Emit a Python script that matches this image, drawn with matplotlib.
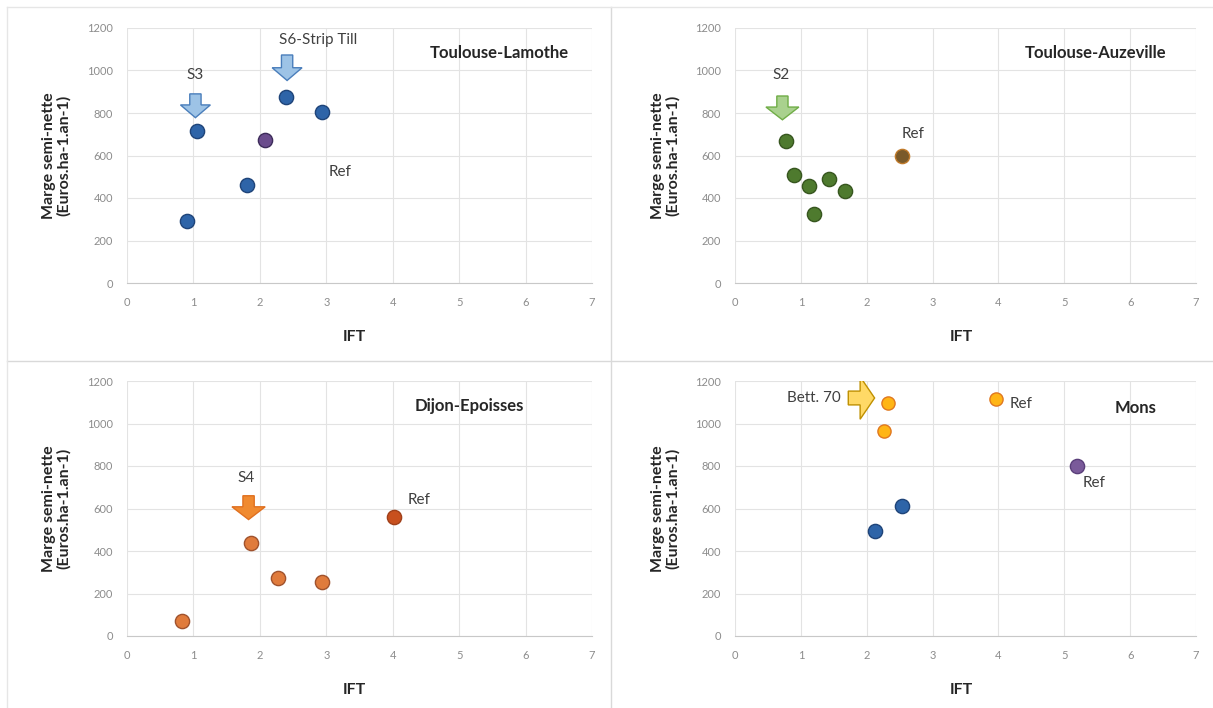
import matplotlib
matplotlib.use("Agg")
import matplotlib.pyplot as plt
from matplotlib.patches import FancyArrow
from matplotlib.lines import Line2D

plt.rcParams['font.family'] = ['Lato', 'DejaVu Sans']

# ---- data ----
# Toulouse-Lamothe
tl_x = [0.9, 1.05, 1.8, 2.4, 2.93]
tl_y = [290, 715, 460, 875, 805]
tl_ref_x = [2.07]
tl_ref_y = [675]
# Toulouse-Auzeville
ta_x = [0.77, 0.9, 1.12, 1.2, 1.43, 1.67]
ta_y = [670, 510, 455, 325, 490, 435]
ta_ref_x = [2.53]
ta_ref_y = [600]
# Dijon-Epoisses
de_x = [0.83, 1.87, 2.27, 2.93]
de_y = [70, 440, 275, 255]
de_ref_x = [4.02]
de_ref_y = [560]
# Mons
mo_yel_x = [2.33, 2.27, 3.97]
mo_yel_y = [1095, 965, 1115]
mo_blue_x = [2.13, 2.53]
mo_blue_y = [495, 610]
mo_ref_x = [5.2]
mo_ref_y = [800]

xticks = [0, 1, 2, 3, 4, 5, 6, 7]
yticks = [0, 200, 400, 600, 800, 1000, 1200]

fig = plt.figure(figsize=(12.13, 7.08), dpi=100)

W, H = 1213, 708
def rect(l, r, top, bot):
    return [l / W, 1 - bot / H, (r - l) / W, (bot - top) / H]

ax1 = fig.add_axes(rect(127, 592, 28, 283))
ax2 = fig.add_axes(rect(735, 1196, 28, 283))
ax3 = fig.add_axes(rect(127, 592, 381, 636))
ax4 = fig.add_axes(rect(735, 1196, 381, 636))

# separators / frame
fig.add_artist(Line2D([611 / W, 611 / W], [0, 1 - 7 / H], color='#D9D9D9', lw=1))
fig.add_artist(Line2D([7 / W, 1], [1 - 361 / H, 1 - 361 / H], color='#D9D9D9', lw=1))
fig.add_artist(Line2D([7 / W, 1], [1 - 7 / H, 1 - 7 / H], color='#E6E6E6', lw=1))
fig.add_artist(Line2D([7 / W, 7 / W], [0, 1 - 7 / H], color='#E6E6E6', lw=1))

for ax in (ax1, ax2, ax3, ax4):
    ax.set_xlim(0, 7)
    ax.set_ylim(0, 1200)
    ax.set_xticks(xticks)
    ax.set_yticks(yticks)
    ax.tick_params(length=0, labelsize=8, labelcolor='#8C8C8C', pad=10)
    ax.grid(True, color='#E3E3E3', lw=0.8)
    ax.set_axisbelow(True)
    for s in ('top', 'right', 'left'):
        ax.spines[s].set_visible(False)
    ax.spines['bottom'].set_color('#C8C8C8')
    ax.set_xlabel('IFT', fontsize=11.5, fontweight='bold', color='#262626')
    ax.xaxis.set_label_coords(0.49, -0.185)
    ax.set_ylabel('Marge semi-nette\n(Euros.ha-1.an-1)', fontsize=11.5,
                  fontweight='bold', color='#262626', linespacing=1.05)
    ax.yaxis.set_label_coords(-0.12, 0.5)

ms = 105
fs = 11
tfs = 12
# Panel 1
ax1.scatter(tl_x, tl_y, s=ms, c='#2E64A8', edgecolors='#1F4479', lw=1, zorder=3)
ax1.scatter(tl_ref_x, tl_ref_y, s=ms, c='#6A4C8C', edgecolors='#3D2C5A', lw=1, zorder=3)
ax1.text(3.2, 520, 'Ref', fontsize=fs, color='#404040', ha='center', va='center')
ax1.text(5.6, 1080, 'Toulouse-Lamothe', fontsize=tfs, fontweight='bold', color='#262626', ha='center', va='center')
ax1.text(1.03, 980, 'S3', fontsize=fs, color='#404040', ha='center', va='center')
ax1.text(2.87, 1145, 'S6-Strip Till', fontsize=fs, color='#404040', ha='center', va='center')
for xa, ytop, ln in [(1.03, 890, 112), (2.41, 1073, 120)]:
    ax1.add_patch(FancyArrow(xa, ytop, 0, -ln, width=0.17, head_width=0.45,
                             head_length=60, length_includes_head=True,
                             fc='#9DC3E6', ec='#4A7EBB', lw=1, zorder=4))

# Panel 2
ax2.scatter(ta_x, ta_y, s=ms, c='#4E7A2E', edgecolors='#37561F', lw=1, zorder=3)
ax2.scatter(ta_ref_x, ta_ref_y, s=ms, c='#7A5A2A', edgecolors='#C07A2A', lw=1, zorder=3)
ax2.text(2.7, 700, 'Ref', fontsize=fs, color='#404040', ha='center', va='center')
ax2.text(5.47, 1080, 'Toulouse-Auzeville', fontsize=tfs, fontweight='bold', color='#262626', ha='center', va='center')
ax2.text(0.7, 980, 'S2', fontsize=fs, color='#404040', ha='center', va='center')
ax2.add_patch(FancyArrow(0.72, 880, 0, -112, width=0.17, head_width=0.5,
                         head_length=60, length_includes_head=True,
                         fc='#A9D18E', ec='#70AD47', lw=1, zorder=4))

# Panel 3
ax3.scatter(de_x, de_y, s=ms, c='#E07B3C', edgecolors='#A0522D', lw=1, zorder=3)
ax3.scatter(de_ref_x, de_ref_y, s=ms, c='#C8501E', edgecolors='#A0401A', lw=1, zorder=3)
ax3.text(4.4, 640, 'Ref', fontsize=fs, color='#404040', ha='center', va='center')
ax3.text(5.15, 1080, 'Dijon-Epoisses', fontsize=tfs, fontweight='bold', color='#262626', ha='center', va='center')
ax3.text(1.8, 745, 'S4', fontsize=fs, color='#404040', ha='center', va='center')
ax3.add_patch(FancyArrow(1.83, 660, 0, -112, width=0.17, head_width=0.5,
                         head_length=60, length_includes_head=True,
                         fc='#F08A30', ec='#E07020', lw=1, zorder=4))

# Panel 4
ax4.scatter(mo_yel_x, mo_yel_y, s=90, c='#FFB515', edgecolors='#E07820', lw=1, zorder=3)
ax4.scatter(mo_blue_x, mo_blue_y, s=ms, c='#2E64A8', edgecolors='#1F4479', lw=1, zorder=3)
ax4.scatter(mo_ref_x, mo_ref_y, s=ms, c='#7A5A9A', edgecolors='#5A3F7A', lw=1, zorder=3)
ax4.text(4.35, 1090, 'Ref', fontsize=fs, color='#404040', ha='center', va='center')
ax4.text(5.45, 720, 'Ref', fontsize=fs, color='#404040', ha='center', va='center')
ax4.text(6.08, 1075, 'Mons', fontsize=tfs, fontweight='bold', color='#262626', ha='center', va='center')
ax4.text(1.6, 1120, 'Bett. 70', fontsize=fs, color='#404040', ha='right', va='center')
ax4.add_patch(FancyArrow(1.72, 1120, 0.4, 0, width=65, head_width=200,
                         head_length=0.22, length_includes_head=True,
                         fc='#FFD966', ec='#BF9000', lw=1, zorder=4))

fig.savefig('out.png', dpi=100)
